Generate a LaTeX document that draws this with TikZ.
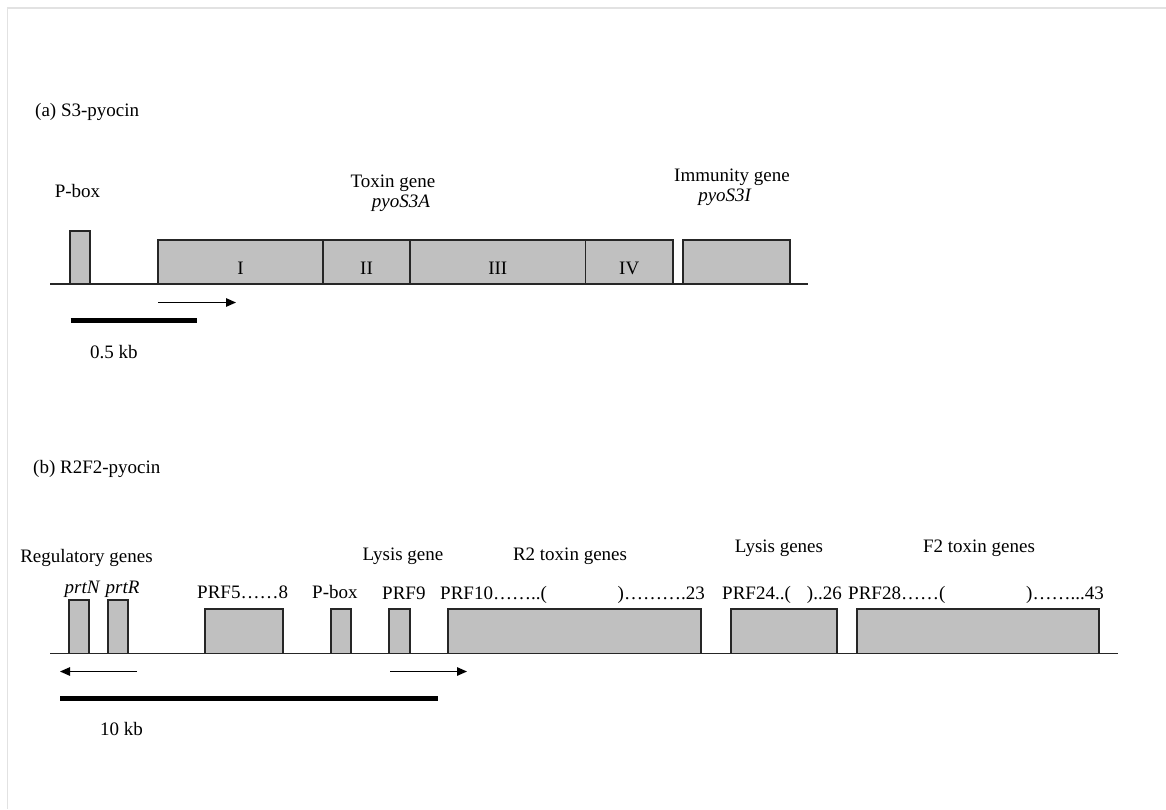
\documentclass[tikz,border=0pt]{standalone}
\usepackage{fontspec}
\setmainfont{Liberation Serif}
\usetikzlibrary{arrows.meta}
\definecolor{genegray}{RGB}{192,192,192}
\definecolor{framegray}{RGB}{226,226,226}

\begin{document}
\begin{tikzpicture}[x=1pt,y=-1pt]

    \tikzset{
      lbl/.style={anchor=base,inner sep=0pt,font=\fontsize{19}{21}\selectfont},
      lblw/.style={lbl,anchor=base west},
      lble/.style={lbl,anchor=base east},
      gene/.style={draw=black!85,line width=1.4pt,fill=genegray},
      dna/.style={draw=black!85,line width=1.4pt},
      scalebar/.style={line width=4.2pt},
      dir/.style={line width=1.3pt,-{Triangle[length=10pt,width=8.5pt]}},
    }
    \useasboundingbox (0,0) rectangle (1166,809);
    \draw[framegray,line width=1.5pt] (7.5,809)--(7.5,8)--(1166,8);

    % (a) S3-pyocin
    \node[lblw] (titleA) at (35,116) {(a) S3-pyocin};
    \node[lbl] (pboxA) at (77.5,197.5) {P-box};
    \node[lbl] (toxinA) at (393,187) {Toxin gene};
    \node[lbl] (pyoA) at (401,207) {\textit{pyoS3A}};
    \node[lbl] (immA) at (732,181) {Immunity gene};
    \node[lbl] (pyoI) at (725,201) {\textit{pyoS3I}};
    \draw[dna] (50,284)--(808,284);
    \draw[gene] (70,284) rectangle (90,231);
    \foreach \l/\r/\n in {158/323/I,323/410/II,410/585.5/III,585.5/673/IV}{
      \draw[gene] (\l,284) rectangle (\r,240);
      \node[lbl] (dom\n) at ({(\l+\r)/2},274) {\n};
    }
    \draw[gene] (683,284) rectangle (790,240);
    \coordinate (arA1) at (158,302.5);
    \coordinate (arA2) at (236,302.5);
    \draw[dir] (arA1)--(arA2);
    \coordinate (sbA1) at (70.5,320.5);
    \coordinate (sbA2) at (197,320.5);
    \draw[scalebar] (sbA1)--(sbA2);
    \node[lblw] (kbA) at (90,358) {0.5 kb};

    % (b) R2F2-pyocin
    \node[lblw] (titleB) at (33,473) {(b) R2F2-pyocin};
    \node[lbl] (regB) at (86.5,562) {Regulatory genes};
    \node[lbl] (lysB) at (403,560) {Lysis gene};
    \node[lbl] (r2B) at (570,560) {R2 toxin genes};
    \node[lbl] (lyssB) at (779,552) {Lysis genes};
    \node[lbl] (f2B) at (979,552) {F2 toxin genes};
    \node[lbl] (prtN) at (82.5,593) {\textit{prtN}};
    \node[lbl] (prtR) at (122.5,593) {\textit{prtR}};
    \node[lblw] (prf5) at (197,598) {PRF5……8};
    \node[lblw] (pboxB) at (312,598) {P-box};
    \node[lblw] (prf9) at (382,599) {PRF9};
    \node[lblw] (prf10) at (440,599) {PRF10……..(};
    \node[lble] (prf23) at (705,599) {)……….23};
    \node[lblw] (prf24) at (722,599) {PRF24..(};
    \node[lble] (prf26) at (842,599) {)..26};
    \node[lblw] (prf28) at (848,599) {PRF28……(};
    \node[lble] (prf43) at (1104,599) {)……...43};
    \draw[dna] (50,653.5)--(1118,653.5);
    \foreach \l/\r/\t in {69/89/600,108/128/600,205/283/609,331/351/609,
                          389/410/609,448/701/609,731/837/609,857/1099/609}{
      \draw[gene] (\l,653.5) rectangle (\r,\t);
    }
    \coordinate (arB1) at (137,671.5);
    \coordinate (arB2) at (60,671.5);
    \draw[dir] (arB1)--(arB2);
    \coordinate (arB3) at (390,671.5);
    \coordinate (arB4) at (467,671.5);
    \draw[dir] (arB3)--(arB4);
    \coordinate (sbB1) at (60,698.5);
    \coordinate (sbB2) at (438,698.5);
    \draw[scalebar] (sbB1)--(sbB2);
    \node[lblw] (kbB) at (100,735) {10 kb};

\end{tikzpicture}
\end{document}
